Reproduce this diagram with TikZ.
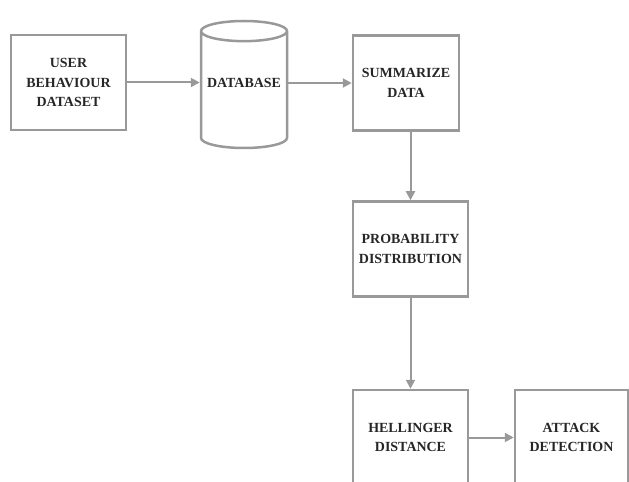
\documentclass[tikz,border=0pt]{standalone}
\usepackage{fontspec}
\setmainfont{Liberation Serif}
\usetikzlibrary{arrows.meta,shapes.geometric}

\begin{document}
\begin{tikzpicture}[x=1bp, y=-1bp,
	every node/.style={font=\fontsize{14}{19.5}\selectfont\bfseries, text=black!85, align=center},
	>={Triangle[length=9bp,width=9bp]},
	box/.style={draw=black!40, line width=2.5bp, minimum width=115bp, minimum height=95bp},
	flow/.style={->, draw=black!40, line width=2bp}]
	\useasboundingbox (0,0) rectangle (629,482);
	\clip (0,0) rectangle (629,482);
	\node[box] (user) at (68.5,82.5) {USER\\BEHAVIOUR\\DATASET};
	\node[cylinder, shape border rotate=90, aspect=0.25, draw=black!40, line width=2.5bp, text width=74bp,
		minimum width=86bp, minimum height=127bp, anchor=shape center] (db) at (244,84.5) {};
	\node (dbtext) at (244,83) {DATABASE};
	\node[box, minimum width=106bp] (summ) at (406,83) {SUMMARIZE\\DATA};
	\node[box] (prob) at (410.5,249) {PROBABILITY\\DISTRIBUTION};
	\node[box] (hell) at (410.5,437.5) {HELLINGER\\DISTANCE};
	\node[box, minimum width=113bp] (attack) at (571.5,437.5) {ATTACK\\DETECTION};
	\draw[flow] (user.east) -- (user.east -| db.west);
	\draw[flow] (db.east |- summ.west) -- (summ.west);
	\draw[flow] (summ.south -| prob.north) -- (prob.north);
	\draw[flow] (prob) -- (hell);
	\draw[flow] (hell) -- (attack);
\end{tikzpicture}
\end{document}
